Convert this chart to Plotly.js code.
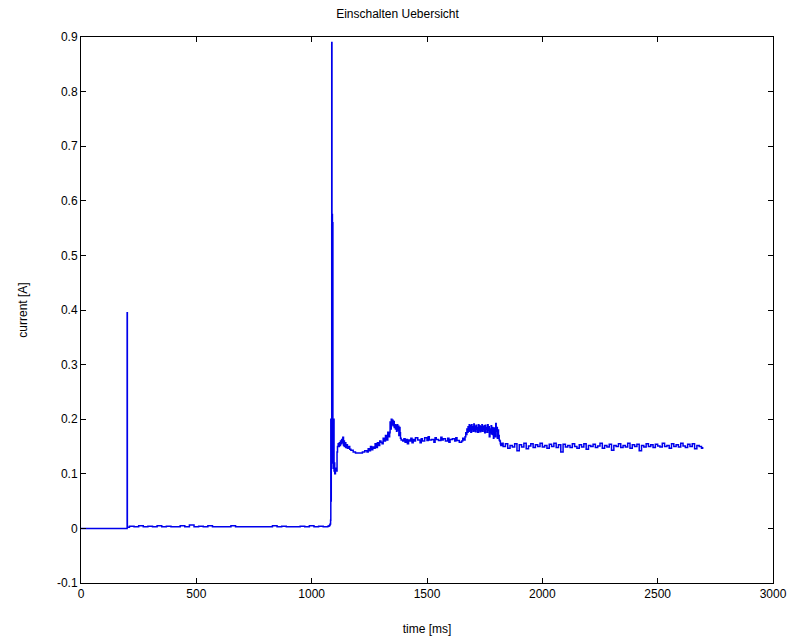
<!DOCTYPE html>
<html>
<head>
<meta charset="utf-8">
<script src="https://cdn.plot.ly/plotly-3.0.1.min.js"></script>
<style>html,body{margin:0;padding:0;background:#fff;}#chart{width:795px;height:642px;}</style>
</head>
<body>
<div id="chart"></div>
<script>
// Time stamps [ms]
const timeStart = [0, 199, 200, 201];
const currentStart = [0, 0, 0.395, 0.002];

const timeBase = [210,230,250,270,290,310,330,350,370,390,410,430,450,470,490,510,530,550,570,590,610,630,650,670,690,710,730,750,770,790,810,830,850,870,890,910,930,950,970,990,1010,1030,1050,1070];
const currentBase = [0.004,0.003,0.005,0.003,0.004,0.003,0.005,0.003,0.004,0.003,0.003,0.005,0.003,0.006,0.003,0.004,0.003,0.005,0.003,0.003,0.003,0.003,0.005,0.003,0.003,0.003,0.003,0.003,0.003,0.003,0.003,0.005,0.003,0.004,0.003,0.003,0.003,0.004,0.003,0.005,0.003,0.004,0.003,0.004];

const timeInrush = [1075,1078,1080,1082,1083,1084,1085,1086,1087,1088,1089,1090,1091,1092,1093,1094,1095,1096,1097,1098,1100,1103,1106,1108,1110,1112,1115,1118,1120,1123,1125,1128,1130,1133,1135,1138,1140,1142,1145,1148,1150,1155,1160,1165,1170,1180,1190,1200,1210,1220,1230,1240,1245,1250,1255,1260,1265,1270,1275,1280,1285,1290,1295,1300,1305,1310,1315,1320,1325,1330,1335,1338,1340,1343,1345,1348,1350,1353,1355,1358,1360,1363,1365,1368,1370,1373,1375,1378,1380,1383,1385,1388];
const currentInrush = [0.005,0.006,0.008,0.015,0.2,0.05,0.2,0.12,0.89,0.13,0.575,0.15,0.56,0.2,0.11,0.19,0.12,0.2,0.105,0.12,0.1,0.105,0.11,0.105,0.14,0.15,0.155,0.15,0.157,0.152,0.16,0.155,0.163,0.157,0.167,0.152,0.16,0.15,0.157,0.148,0.153,0.147,0.15,0.145,0.143,0.14,0.138,0.138,0.138,0.14,0.142,0.14,0.146,0.142,0.15,0.144,0.149,0.147,0.155,0.148,0.157,0.152,0.16,0.158,0.155,0.165,0.16,0.17,0.162,0.176,0.168,0.175,0.195,0.182,0.2,0.19,0.198,0.188,0.196,0.185,0.19,0.182,0.188,0.178,0.19,0.18,0.187,0.17,0.185,0.175,0.165,0.162];

const timePlateau = [1395,1400,1405,1410,1415,1420,1425,1430,1435,1440,1445,1450,1460,1470,1475,1480,1490,1500,1505,1510,1520,1530,1535,1540,1550,1560,1565,1570,1580,1590,1595,1600,1610,1620,1625,1630,1640,1650,1655,1660];
const currentPlateau = [0.16,0.164,0.158,0.163,0.155,0.162,0.16,0.165,0.157,0.163,0.16,0.166,0.162,0.157,0.164,0.16,0.166,0.161,0.168,0.162,0.163,0.158,0.166,0.163,0.161,0.167,0.162,0.164,0.16,0.165,0.158,0.163,0.164,0.16,0.166,0.161,0.158,0.16,0.165,0.162];

const timeHigh = [1665,1668,1670,1673,1675,1678,1680,1683,1685,1688,1690,1693,1695,1698,1700,1703,1705,1708,1710,1713,1715,1718,1720,1723,1725,1728,1730,1733,1735,1738,1740,1743,1745,1748,1750,1753,1755,1758,1760,1763,1765,1768,1770,1773,1775,1778,1780,1783,1785,1788,1790,1793,1795,1798,1800,1803,1805,1808,1810,1813,1815,1818,1820];
const currentHigh = [0.168,0.175,0.172,0.182,0.176,0.186,0.178,0.19,0.18,0.188,0.176,0.19,0.181,0.186,0.178,0.191,0.18,0.187,0.177,0.189,0.182,0.185,0.176,0.19,0.18,0.188,0.177,0.186,0.18,0.19,0.178,0.186,0.181,0.188,0.175,0.189,0.182,0.185,0.176,0.19,0.18,0.186,0.168,0.182,0.175,0.188,0.173,0.185,0.172,0.165,0.184,0.172,0.168,0.192,0.178,0.185,0.165,0.18,0.17,0.162,0.16,0.155,0.152];

const timeSteady = [1825,1830,1840,1850,1860,1870,1880,1890,1900,1910,1920,1930,1940,1950,1960,1970,1980,1990,2000,2010,2020,2030,2040,2050,2060,2070,2080,2090,2100,2110,2120,2130,2140,2150,2160,2170,2180,2190,2200,2210,2220,2230,2240,2250,2260,2270,2280,2290,2300,2310,2320,2330,2340,2350,2360,2370,2380,2390,2400,2410,2420,2430,2440,2450,2460,2470,2480,2490,2500,2510,2520,2530,2540,2550,2560,2570,2580,2590,2600,2610,2620,2630,2640,2650,2660,2670,2680,2690,2695];
const currentSteady = [0.156,0.15,0.155,0.147,0.152,0.149,0.155,0.142,0.153,0.149,0.156,0.146,0.151,0.155,0.148,0.153,0.15,0.156,0.149,0.152,0.147,0.154,0.15,0.156,0.148,0.153,0.14,0.154,0.149,0.152,0.148,0.155,0.15,0.147,0.153,0.149,0.155,0.145,0.152,0.15,0.154,0.148,0.151,0.156,0.147,0.152,0.149,0.154,0.143,0.152,0.15,0.155,0.148,0.152,0.149,0.156,0.147,0.153,0.15,0.154,0.142,0.152,0.149,0.155,0.15,0.153,0.148,0.154,0.151,0.149,0.156,0.15,0.152,0.147,0.155,0.15,0.153,0.149,0.156,0.151,0.148,0.154,0.15,0.155,0.146,0.152,0.15,0.147,0.149];

const timeMs = [].concat(timeStart, timeBase, timeInrush, timePlateau, timeHigh, timeSteady);
const currentA = [].concat(currentStart, currentBase, currentInrush, currentPlateau, currentHigh, currentSteady);

const xTicks = [0, 500, 1000, 1500, 2000, 2500, 3000];
const yTicks = [-0.1, 0, 0.1, 0.2, 0.3, 0.4, 0.5, 0.6, 0.7, 0.8, 0.9];
const yTickText = ['-0.1','0','0.1','0.2','0.3','0.4','0.5','0.6','0.7','0.8','0.9'];

const font = {family: 'Liberation Sans, Arial, sans-serif', size: 12, color: '#000'};

Plotly.newPlot('chart', [{
  x: timeMs, y: currentA, type: 'scatter', mode: 'lines',
  line: {color: 'rgb(0,0,235)', width: 1.5, shape: 'hv'}, hoverinfo: 'skip'
}], {
  width: 795, height: 642,
  margin: {l: 81, r: 22, t: 37, b: 59},
  paper_bgcolor: '#fff', plot_bgcolor: '#fff',
  font: font,
  showlegend: false,
  title: {text: 'Einschalten Uebersicht', font: font, x: 0.5, xanchor: 'center', y: 0.978, yanchor: 'middle', yref: 'container'},
  xaxis: {
    range: [0, 3000], tickvals: xTicks, ticktext: xTicks.map(String),
    ticks: 'inside', ticklen: 5, tickcolor: '#000', mirror: 'ticks',
    showline: true, linecolor: '#000', linewidth: 1, showgrid: false, zeroline: false,
    tickfont: font,
    title: {text: 'time [ms]', font: font, standoff: 24}
  },
  yaxis: {
    range: [-0.1, 0.9], tickvals: yTicks, ticktext: yTickText,
    ticks: 'inside', ticklen: 5, tickcolor: '#000', mirror: 'ticks',
    showline: true, linecolor: '#000', linewidth: 1, showgrid: false, zeroline: false,
    tickfont: font,
    title: {text: 'current [A]', font: font, standoff: 26}
  }
}, {staticPlot: true});
</script>
</body>
</html>
